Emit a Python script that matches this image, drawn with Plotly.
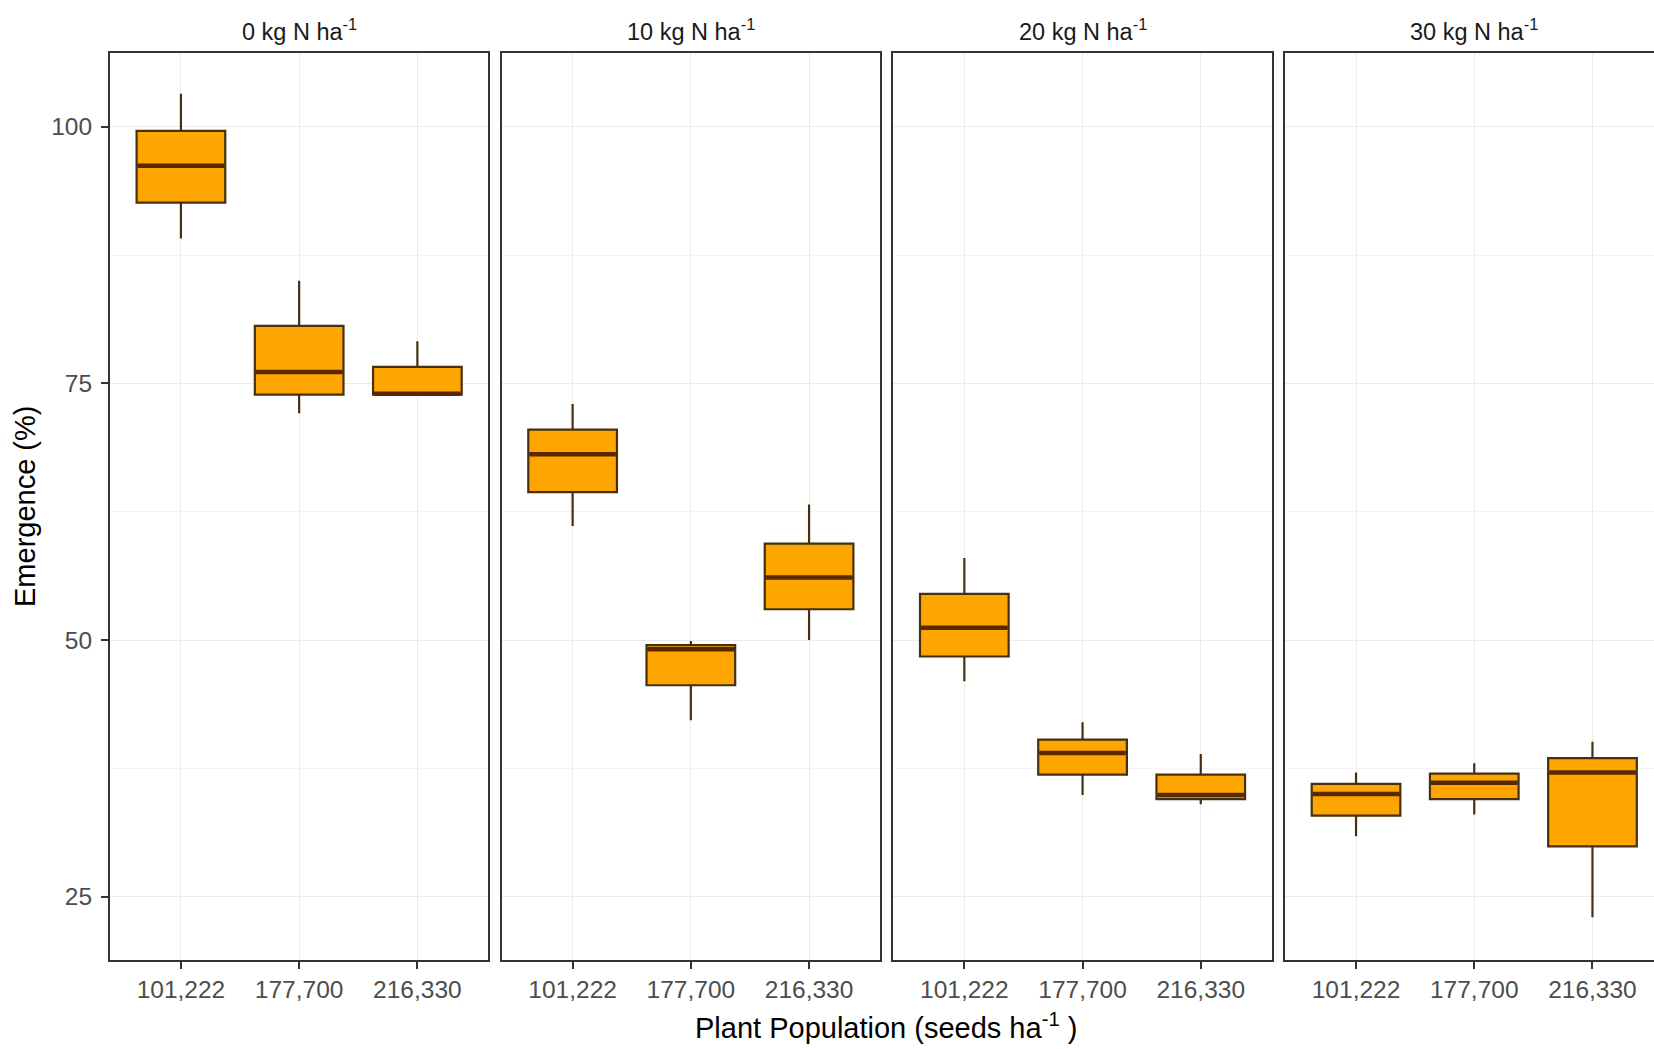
import plotly.graph_objects as go

# ---------------- data ----------------
categories = ["101,222", "177,700", "216,330"]
panels = ["0 kg N ha<sup>-1</sup>", "10 kg N ha<sup>-1</sup>",
          "20 kg N ha<sup>-1</sup>", "30 kg N ha<sup>-1</sup>"]

lower_0 = [89.1, 72.1, 73.9]
q1_0 = [92.6, 73.9, 73.9]
med_0 = [96.2, 76.1, 74.0]
q3_0 = [99.6, 80.6, 76.6]
upper_0 = [103.2, 85.0, 79.1]

lower_10 = [61.1, 42.2, 50.0]
q1_10 = [64.4, 45.6, 53.0]
med_10 = [68.1, 49.1, 56.1]
q3_10 = [70.5, 49.5, 59.4]
upper_10 = [73.0, 49.9, 63.2]

lower_20 = [46.0, 34.9, 34.0]
q1_20 = [48.4, 36.9, 34.5]
med_20 = [51.2, 39.0, 34.9]
q3_20 = [54.5, 40.3, 36.9]
upper_20 = [58.0, 42.0, 38.9]

lower_30 = [30.9, 33.0, 23.0]
q1_30 = [32.9, 34.5, 29.9]
med_30 = [35.0, 36.1, 37.1]
q3_30 = [36.0, 37.0, 38.5]
upper_30 = [37.1, 38.0, 40.1]

y_ticks = [25, 50, 75, 100]
y_minor = [37.5, 62.5, 87.5]

stats = [
    (lower_0, q1_0, med_0, q3_0, upper_0),
    (lower_10, q1_10, med_10, q3_10, upper_10),
    (lower_20, q1_20, med_20, q3_20, upper_20),
    (lower_30, q1_30, med_30, q3_30, upper_30),
]

# ---------------- layout geometry ----------------
W, H = 1654, 1049
FONT = "Liberation Sans, Arial, sans-serif"
BOX_FILL = "#FFA500"
BOX_LINE = "#45300f"
MED_LINE = "#5a2800"
BORDER = "#333333"
GRID = "#EBEBEB"
GRID_MINOR = "#F4F4F4"

panel_left0 = 110.0
panel_w = 378.3
panel_step = 391.7
top_px, bottom_px = 53.3, 960.0
box_w = 0.75
x_units_per_px = 3.2 / panel_w

fig = go.Figure()
layout = {}

for i, (lo, q1, md, q3, up) in enumerate(stats):
    k = "" if i == 0 else str(i + 1)
    pos = [1, 2, 3]
    fig.add_trace(go.Box(
        x=pos, q1=q1, median=md, q3=q3, lowerfence=lo, upperfence=up,
        width=box_w, whiskerwidth=0, fillcolor=BOX_FILL,
        line=dict(color=BOX_LINE, width=2.2), boxpoints=False,
        xaxis="x" + k, yaxis="y" + k, showlegend=False, hoverinfo="skip",
    ))
    mx, my = [], []
    for p, m in zip(pos, md):
        mx += [p - box_w / 2 + 0.01, p + box_w / 2 - 0.01, None]
        my += [m, m, None]
    fig.add_trace(go.Scatter(
        x=mx, y=my, mode="lines", line=dict(color=MED_LINE, width=4.5),
        xaxis="x" + k, yaxis="y" + k, showlegend=False, hoverinfo="skip",
    ))

    left = panel_left0 + i * panel_step
    right = min(left + panel_w, W)
    xr_hi = 0.4 + (right - left) * x_units_per_px
    layout["xaxis" + k] = dict(
        domain=[left / W, right / W], range=[0.4, xr_hi],
        tickvals=[1, 2, 3], ticktext=categories,
        ticks="outside", ticklen=7, tickwidth=1.5, tickcolor=BORDER,
        tickfont=dict(family=FONT, size=24.5, color="#4D4D4D"),
        showgrid=True, gridcolor=GRID, gridwidth=1.2, zeroline=False,
        showline=True, linecolor=BORDER, linewidth=2, mirror=True,
        anchor="y" + k, automargin=False, fixedrange=True,
    )
    layout["yaxis" + k] = dict(
        domain=[1 - bottom_px / H, 1 - top_px / H], range=[18.84, 107.15],
        tickvals=y_ticks, showticklabels=(i == 0),
        ticks="outside" if i == 0 else "", ticklen=7, tickwidth=1.5,
        tickcolor=BORDER, ticklabelstandoff=4,
        tickfont=dict(family=FONT, size=24.5, color="#4D4D4D"),
        showgrid=True, gridcolor=GRID, gridwidth=1.2, zeroline=False,
        minor=dict(tickvals=y_minor, showgrid=True, gridcolor=GRID_MINOR,
                   gridwidth=1, ticks=""),
        showline=True, linecolor=BORDER, linewidth=2,
        mirror=(i < 3), anchor="x" + k, automargin=False, fixedrange=True,
    )

annotations = []
for i, name in enumerate(panels):
    cx = panel_left0 + i * panel_step + panel_w / 2
    annotations.append(dict(
        text=name, x=cx / W, y=1 - 30 / H, xref="paper", yref="paper",
        xanchor="center", yanchor="middle", showarrow=False,
        font=dict(family=FONT, size=23.5, color="#1A1A1A"),
    ))

annotations.append(dict(
    text="Plant Population (seeds ha<sup>-1</sup> )",
    x=886 / W, y=1 - 1026 / H, xref="paper", yref="paper",
    xanchor="center", yanchor="middle", showarrow=False,
    font=dict(family=FONT, size=29, color="#000000"),
))
annotations.append(dict(
    text="Emergence (%)", textangle=-90,
    x=25 / W, y=1 - 507 / H, xref="paper", yref="paper",
    xanchor="center", yanchor="middle", showarrow=False,
    font=dict(family=FONT, size=29, color="#000000"),
))

fig.update_layout(
    width=W, height=H, margin=dict(l=0, r=0, t=0, b=0),
    paper_bgcolor="white", plot_bgcolor="white",
    annotations=annotations, **layout,
)

fig.write_html(
    "out.html",
    config={"displayModeBar": False},
    post_script="document.body.style.margin='0';document.body.style.overflow='hidden';",
)
